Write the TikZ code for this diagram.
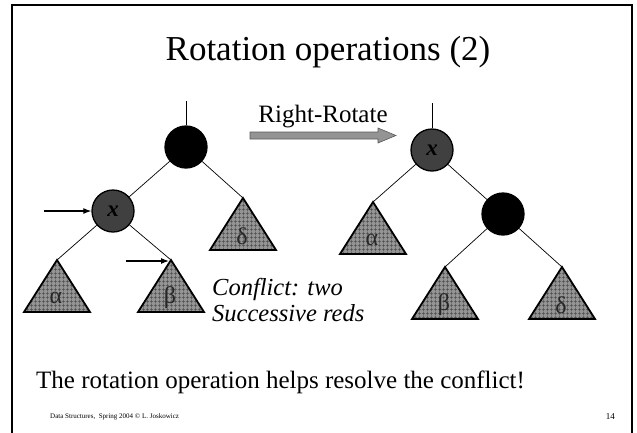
\documentclass[tikz,border=0pt]{standalone}
\usepackage{fontspec}
\setmainfont{Liberation Serif}
\usetikzlibrary{arrows.meta,patterns.meta,calc}

\tikzset{
  slideframe/.style={line width=2pt, line cap=rect},
  rbnode/.style={circle, draw=black, line width=1.3pt, minimum size=42pt, inner sep=0pt,
                 font=\fontsize{23}{23}\selectfont\bfseries\itshape},
  blacknode/.style={rbnode, fill=black},
  rednode/.style={rbnode, fill=black!75},
  treeedge/.style={line width=0.7pt},
  pointer/.style={line width=1.2pt, -{Latex[length=8pt,width=6pt]}},
  trifill/.style={fill=black!42},
  trigrid/.style={pattern={Hatch[angle=0,distance=4pt,line width=0.4pt]}, pattern color=black!70},
  triedge/.style={black, line width=1.8pt, line join=miter},
  greek/.style={font=\fontsize{24}{24}\selectfont, text=black!85, inner sep=0pt},
  title/.style={font=\fontsize{35}{40}\selectfont, inner sep=0pt},
  bigtext/.style={font=\fontsize{25}{28}\selectfont, inner sep=0pt},
  note/.style={font=\fontsize{24.5}{26}\selectfont\itshape, inner sep=0pt, align=left},
  footer/.style={font=\fontsize{7}{8}\selectfont, inner sep=0pt},
  pagenum/.style={font=\fontsize{9}{10}\selectfont, inner sep=0pt},
  rotarrow/.style={fill=black!42, draw=black!65, line width=0.6pt}
}

% subtree triangle: name, apex, label
\newcommand\subtree[3]{%
  \coordinate (#1) at #2;
  \fill[trifill] (#1) -- ++(-33,52) -- ++(66,0) -- cycle;
  \path[trigrid] (#1) -- ++(-33,52) -- ++(66,0) -- cycle;
  \draw[triedge] (#1) -- ++(-33,52) -- ++(66,0) -- cycle;
  \node[greek] (#1-lab) at ($(#1)+(-1,38)$) {#3};
}

\begin{document}
\begin{tikzpicture}[x=1pt,y=-1pt]
  \useasboundingbox (0,0) rectangle (637,432);

  % slide border (open at the bottom)
  \draw[slideframe] (12,433) -- (12,5) -- (632,5) -- (632,433);

  % title
  \node[title, anchor=base] (ttl) at (328,60) {Rotation operations (2)};

  % ---- tree before the rotation ----
  \node[blacknode] (yL) at (186,147) {};
  \node[rednode] (xL) at (113,211) {x};
  \coordinate (yLtop) at (186,101);
  \draw[treeedge] (yLtop) -- (yL);
  \subtree{dL}{(243,198)}{δ}
  \subtree{aL}{(57,260)}{α}
  \subtree{bL}{(171,260)}{β}
  \draw[treeedge] (yL) -- (xL);
  \draw[treeedge] (yL) -- (dL);
  \draw[treeedge] (xL) -- (aL);
  \draw[treeedge] (xL) -- (bL);

  % pointers at the two successive reds
  \coordinate (pxs) at (44,211);
  \draw[pointer] (pxs) -- (xL);
  \coordinate (pbs) at (126,261);
  \coordinate (pbe) at (169,261);
  \draw[pointer] (pbs) -- (pbe);

  \node[note, anchor=base west] (conf) at (212,321) {Conflict: two\\[0pt]Successive reds};

  % rotation arrow
  \path[rotarrow] (250,132) -- (378,132) -- (378,128) -- (396,135.5) -- (378,143)
        -- (378,139) -- (250,139) -- cycle;
  \node[bigtext, anchor=base] (rot) at (323,122) {Right-Rotate};

  % ---- tree after the rotation ----
  \node[rednode] (xR) at (432,150) {x};
  \node[blacknode] (yR) at (503,214) {};
  \coordinate (xRtop) at (432,103);
  \draw[treeedge] (xRtop) -- (xR);
  \subtree{aR}{(373,202)}{α}
  \subtree{bR}{(445,267)}{β}
  \subtree{dR}{(562,267)}{δ}
  \draw[treeedge] (xR) -- (aR);
  \draw[treeedge] (xR) -- (yR);
  \draw[treeedge] (yR) -- (bR);
  \draw[treeedge] (yR) -- (dR);

  % remark and footer
  \node[bigtext, anchor=base west] (rem) at (36,388) {The rotation operation helps resolve the conflict!};
  \node[footer, anchor=base west] (foot) at (50,418) {Data Structures,\ \ Spring 2004 © L. Joskowicz};
  \node[pagenum, anchor=base east] (pg) at (615,419) {14};
\end{tikzpicture}
\end{document}
